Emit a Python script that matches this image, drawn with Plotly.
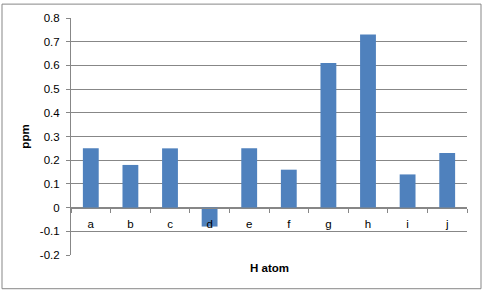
import plotly.graph_objects as go

categories = ["a", "b", "c", "d", "e", "f", "g", "h", "i", "j"]
ppm_values = [0.25, 0.18, 0.25, -0.08, 0.25, 0.16, 0.61, 0.73, 0.14, 0.23]
y_tick_vals = [-0.2, -0.1, 0, 0.1, 0.2, 0.3, 0.4, 0.5, 0.6, 0.7, 0.8]
y_tick_text = ["-0.2", "-0.1", "0", "0.1", "0.2", "0.3", "0.4", "0.5", "0.6", "0.7", "0.8"]

GRID = "#878787"
FONT = "Liberation Sans"
FS = 11.5

fig = go.Figure(go.Bar(x=categories, y=ppm_values, marker_color="#4F81BD",
                       marker_line_width=0))

ymin, ymax = -0.2, 0.8
fig.update_layout(
    width=483, height=292,
    margin=dict(l=71, r=16, t=16, b=37),
    paper_bgcolor="white", plot_bgcolor="white",
    bargap=0.6,
    showlegend=False,
    font=dict(family=FONT, size=FS, color="#000000"),
    xaxis=dict(
        type="category",
        anchor="free",
        position=(0 - ymin) / (ymax - ymin),
        layer="above traces",
        showline=True, linecolor=GRID, linewidth=1,
        ticks="outside", ticklen=4, tickcolor=GRID, tickson="boundaries",
        ticklabelstandoff=6,
        showgrid=False,
        tickfont=dict(family=FONT, size=FS),
    ),
    yaxis=dict(
        range=[ymin, ymax],
        tickvals=y_tick_vals, ticktext=y_tick_text,
        showline=True, linecolor=GRID, linewidth=1,
        ticks="outside", ticklen=4, tickcolor=GRID,
        ticklabelstandoff=4,
        showgrid=True, gridcolor=GRID, gridwidth=1,
        zeroline=False,
        tickfont=dict(family=FONT, size=FS),
        title=dict(text="<b>ppm</b>", font=dict(family=FONT, size=FS), standoff=7),
    ),
    annotations=[
        dict(text="<b>H atom</b>", xref="paper", yref="paper", x=0.5, y=0,
             yshift=-5, yanchor="top", showarrow=False,
             font=dict(family=FONT, size=FS)),
    ],
    shapes=[
        dict(type="rect", xref="paper", yref="paper",
             x0=-69 / 396, x1=1 + 14 / 396, y0=-34 / 239, y1=1 + 14 / 239,
             line=dict(color=GRID, width=1), fillcolor="rgba(0,0,0,0)", layer="below"),
    ],
)

fig.write_html("out.html")
